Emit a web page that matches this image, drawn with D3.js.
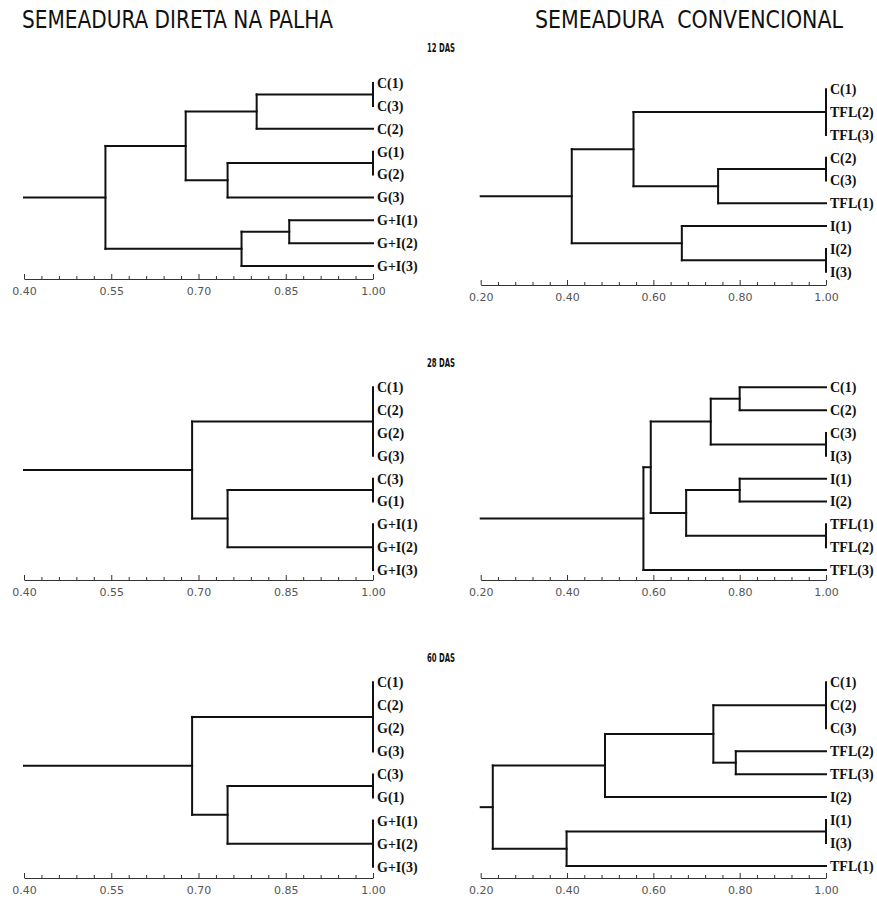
<!DOCTYPE html>
<html>
<head>
<meta charset="utf-8">
<script src="https://cdn.jsdelivr.net/npm/d3@7"></script>
<style>
  html, body { margin: 0; padding: 0; background: #fff; }
  svg { display: block; }
</style>
</head>
<body>
<svg id="chart" width="877" height="901"></svg>
<script>
// ---------------- DATA ----------------
const titleLeft = "SEMEADURA DIRETA NA PALHA";
const titleRight = "SEMEADURA  CONVENCIONAL";
const stageLabels = ["12 DAS", "28 DAS", "60 DAS"];

const ticksSD = [0.40, 0.55, 0.70, 0.85, 1.00];
const ticksSC = [0.20, 0.40, 0.60, 0.80, 1.00];

// 12 DAS – semeadura direta
const leaves12SD = ["C(1)", "C(3)", "C(2)", "G(1)", "G(2)", "G(3)", "G+I(1)", "G+I(2)", "G+I(3)"];
const merges12SD = [
  ["a", ["C(1)", "C(3)"], 1.00],
  ["b", ["a", "C(2)"], 0.80],
  ["c", ["G(1)", "G(2)"], 1.00],
  ["d", ["c", "G(3)"], 0.75],
  ["e", ["b", "d"], 0.678],
  ["f", ["G+I(1)", "G+I(2)"], 0.856],
  ["g", ["f", "G+I(3)"], 0.774],
  ["root", ["e", "g"], 0.540]
];

// 12 DAS – convencional
const leaves12SC = ["C(1)", "TFL(2)", "TFL(3)", "C(2)", "C(3)", "TFL(1)", "I(1)", "I(2)", "I(3)"];
const merges12SC = [
  ["a", ["C(1)", "TFL(2)", "TFL(3)"], 1.00],
  ["b", ["C(2)", "C(3)"], 1.00],
  ["c", ["b", "TFL(1)"], 0.750],
  ["d", ["a", "c"], 0.554],
  ["e", ["I(2)", "I(3)"], 1.00],
  ["f", ["I(1)", "e"], 0.666],
  ["root", ["d", "f"], 0.411]
];

// 28 DAS – semeadura direta
const leaves28SD = ["C(1)", "C(2)", "G(2)", "G(3)", "C(3)", "G(1)", "G+I(1)", "G+I(2)", "G+I(3)"];
const merges28SD = [
  ["a", ["C(1)", "C(2)", "G(2)", "G(3)"], 1.00],
  ["b", ["C(3)", "G(1)"], 1.00],
  ["c", ["G+I(1)", "G+I(2)", "G+I(3)"], 1.00],
  ["d", ["b", "c"], 0.750],
  ["root", ["a", "d"], 0.689]
];

// 28 DAS – convencional
const leaves28SC = ["C(1)", "C(2)", "C(3)", "I(3)", "I(1)", "I(2)", "TFL(1)", "TFL(2)", "TFL(3)"];
const merges28SC = [
  ["a", ["C(1)", "C(2)"], 0.800],
  ["b", ["C(3)", "I(3)"], 1.00],
  ["c", ["a", "b"], 0.733],
  ["d", ["I(1)", "I(2)"], 0.800],
  ["e", ["TFL(1)", "TFL(2)"], 1.00],
  ["f", ["d", "e"], 0.676],
  ["g", ["c", "f"], 0.594],
  ["root", ["g", "TFL(3)"], 0.577]
];

// 60 DAS – semeadura direta
const leaves60SD = ["C(1)", "C(2)", "G(2)", "G(3)", "C(3)", "G(1)", "G+I(1)", "G+I(2)", "G+I(3)"];
const merges60SD = [
  ["a", ["C(1)", "C(2)", "G(2)", "G(3)"], 1.00],
  ["b", ["C(3)", "G(1)"], 1.00],
  ["c", ["G+I(1)", "G+I(2)", "G+I(3)"], 1.00],
  ["d", ["b", "c"], 0.750],
  ["root", ["a", "d"], 0.689]
];

// 60 DAS – convencional
const leaves60SC = ["C(1)", "C(2)", "C(3)", "TFL(2)", "TFL(3)", "I(2)", "I(1)", "I(3)", "TFL(1)"];
const merges60SC = [
  ["a", ["C(1)", "C(2)", "C(3)"], 1.00],
  ["b", ["TFL(2)", "TFL(3)"], 0.791],
  ["c", ["a", "b"], 0.739],
  ["d", ["c", "I(2)"], 0.488],
  ["e", ["I(1)", "I(3)"], 1.00],
  ["f", ["e", "TFL(1)"], 0.399],
  ["root", ["d", "f"], 0.228]
];

// ---------------- LAYOUT ----------------
const panels = [
  { leaves: leaves12SD, merges: merges12SD, ticks: ticksSD, xr: [24, 373],    yr: [83, 266],    axisY: 279 },
  { leaves: leaves12SC, merges: merges12SC, ticks: ticksSC, xr: [480.7, 826], yr: [89.3, 271.7], axisY: 285 },
  { leaves: leaves28SD, merges: merges28SD, ticks: ticksSD, xr: [24, 373],    yr: [387.3, 570], axisY: 580 },
  { leaves: leaves28SC, merges: merges28SC, ticks: ticksSC, xr: [480.7, 826], yr: [387.3, 570], axisY: 580 },
  { leaves: leaves60SD, merges: merges60SD, ticks: ticksSD, xr: [24, 373],    yr: [682.3, 866.7], axisY: 878 },
  { leaves: leaves60SC, merges: merges60SC, ticks: ticksSC, xr: [480.7, 826], yr: [682.3, 866], axisY: 878 }
];

const svg = d3.select("#chart");

const condensed = "'Liberation Sans Narrow', 'DejaVu Sans Condensed', 'Roboto', sans-serif";

// Titles
svg.append("text")
  .attr("x", 22).attr("y", 28)
  .attr("textLength", 311).attr("lengthAdjust", "spacingAndGlyphs")
  .style("font-family", condensed)
  .style("font-size", "25px").style("fill", "#111")
  .text(titleLeft);
svg.append("text")
  .attr("x", 535).attr("y", 28)
  .attr("textLength", 308).attr("lengthAdjust", "spacingAndGlyphs")
  .style("font-family", condensed)
  .style("font-size", "25px").style("fill", "#111")
  .attr("xml:space", "preserve")
  .text(titleRight);

const stageY = [52, 367, 662];
stageLabels.forEach((s, i) => {
  svg.append("text")
    .attr("x", 427).attr("y", stageY[i])
    .attr("textLength", 28).attr("lengthAdjust", "spacingAndGlyphs")
    .style("font-family", condensed)
    .style("font-weight", "bold")
    .style("font-size", "13px").style("fill", "#111")
    .text(s);
});

panels.forEach(p => {
  const g = svg.append("g");
  const dom = [p.ticks[0], p.ticks[p.ticks.length - 1]];
  const x = d3.scaleLinear().domain(dom).range(p.xr);
  const y = d3.scalePoint().domain(p.leaves).range(p.yr);

  // axis – major ticks
  const axis = d3.axisBottom(x).tickValues(p.ticks)
    .tickSizeInner(-5).tickSizeOuter(0).tickPadding(8)
    .tickFormat(d3.format(".2f"));
  const ag = g.append("g").attr("transform", `translate(0,${p.axisY})`).call(axis);
  ag.select(".domain").attr("stroke", "#333").attr("stroke-width", 1);
  ag.selectAll(".tick line").attr("stroke", "#333");
  ag.selectAll(".tick text")
    .style("font-family", "'DejaVu Sans', Verdana, sans-serif")
    .style("font-size", "11px").style("fill", "#555");

  // minor ticks (5 subdivisions per major interval)
  const step = (p.ticks[1] - p.ticks[0]) / 5;
  const minor = d3.range(0, (p.ticks.length - 1) * 5 + 1)
    .map(i => dom[0] + i * step)
    .filter((v, i) => i % 5 !== 0);
  const mAxis = d3.axisBottom(x).tickValues(minor).tickSizeInner(-3).tickSizeOuter(0).tickFormat("");
  const mg = g.append("g").attr("transform", `translate(0,${p.axisY})`).call(mAxis);
  mg.select(".domain").remove();
  mg.selectAll(".tick line").attr("stroke", "#333");

  // dendrogram
  const nodes = {};
  p.leaves.forEach(l => { nodes[l] = { y: y(l), h: 1.0 }; });
  const segs = [];
  let last = null;
  p.merges.forEach(([id, kids, h]) => {
    const ch = kids.map(k => nodes[k]);
    const ys = ch.map(c => c.y);
    const y0 = d3.min(ys), y1 = d3.max(ys);
    segs.push([h, y0, h, y1]);
    ch.forEach(c => { if (c.h !== h) segs.push([h, c.y, c.h, c.y]); });
    nodes[id] = { y: (y0 + y1) / 2, h: h };
    last = nodes[id];
  });
  // root stem
  segs.push([dom[0], last.y, last.h, last.y]);

  g.append("g").selectAll("line").data(segs).join("line")
    .attr("x1", d => x(d[0])).attr("y1", d => d[1])
    .attr("x2", d => x(d[2])).attr("y2", d => d[3])
    .attr("stroke", "#111").attr("stroke-width", 2)
    .attr("stroke-linecap", "square");

  // leaf labels
  g.append("g").selectAll("text").data(p.leaves).join("text")
    .attr("x", x(1.0) + 4).attr("y", d => y(d))
    .attr("dy", "0.35em")
    .style("font-family", "'Liberation Serif', 'Times New Roman', serif")
    .style("font-weight", "bold").style("font-size", "14px").style("fill", "#111")
    .text(d => d);
});
</script>
</body>
</html>
